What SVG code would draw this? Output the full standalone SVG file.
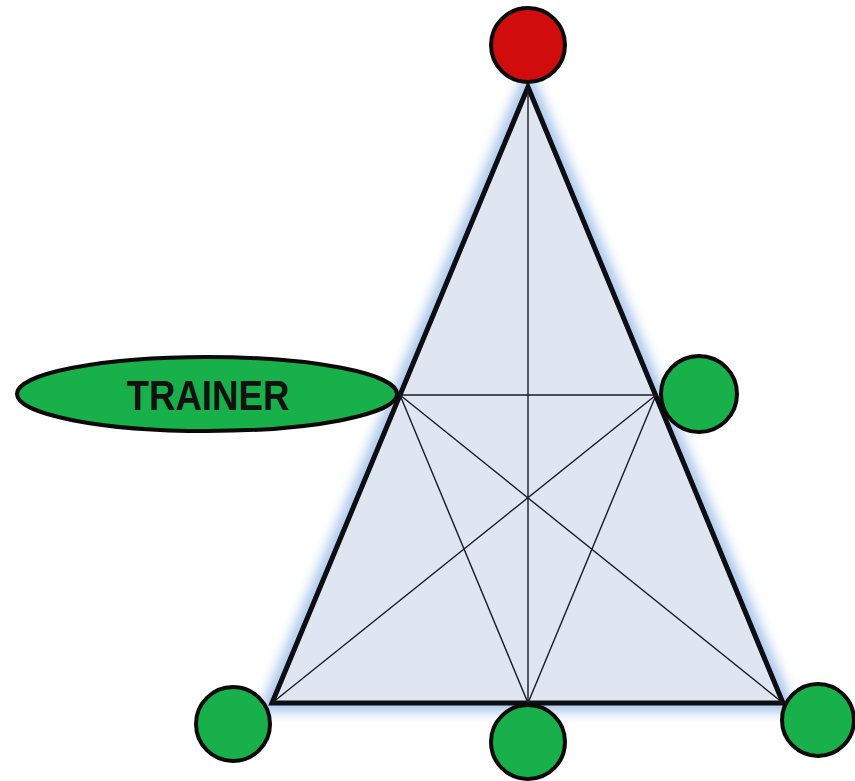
<svg xmlns="http://www.w3.org/2000/svg" width="855" height="781" viewBox="0 0 855 781">
<defs>
<filter id="glow" x="-20%" y="-20%" width="140%" height="140%"><feGaussianBlur stdDeviation="6"/></filter>
<style>
.tri{fill:#dfe6f1;stroke:#0d0d14;stroke-width:5;stroke-linejoin:miter}
.ln{stroke:#1a1a26;stroke-width:1.4;fill:none}
.g{fill:#17b04a;stroke:#0a0a0a;stroke-width:4}
.r{fill:#d00c0c;stroke:#0a0a0a;stroke-width:4}
.t{font-family:"Liberation Sans",Arial,sans-serif;font-weight:bold;font-size:43px;fill:#111}
</style>
</defs>
<rect width="855" height="781" fill="#ffffff"/>
<g id="triangle">
<polygon points="528,87 272,703 783,703" fill="none" stroke="#a9c6ec" stroke-width="18" filter="url(#glow)"/>
<polygon class="tri" points="528,87 272,703 783,703"/>
</g>
<g id="connectors">
<line class="ln" x1="400" y1="395" x2="656" y2="395"/>
<line class="ln" x1="528" y1="87" x2="528" y2="703"/>
<line class="ln" x1="400" y1="395" x2="528" y2="703"/>
<line class="ln" x1="400" y1="395" x2="783" y2="703"/>
<line class="ln" x1="656" y1="395" x2="272" y2="703"/>
<line class="ln" x1="656" y1="395" x2="528" y2="703"/>
</g>
<g id="trainer">
<ellipse class="g" cx="207" cy="394" rx="190" ry="37"/>
<text class="t" x="208" y="410" text-anchor="middle" textLength="163" lengthAdjust="spacingAndGlyphs">TRAINER</text>
</g>
<g id="top"><circle class="r" cx="528" cy="45" r="37"/></g>
<g id="right"><circle class="g" cx="699" cy="394" r="38"/></g>
<g id="bottom-left"><circle class="g" cx="233" cy="724" r="37"/></g>
<g id="bottom-middle"><circle class="g" cx="528" cy="742" r="37"/></g>
<g id="bottom-right"><circle class="g" cx="818" cy="720" r="36"/></g>
</svg>
